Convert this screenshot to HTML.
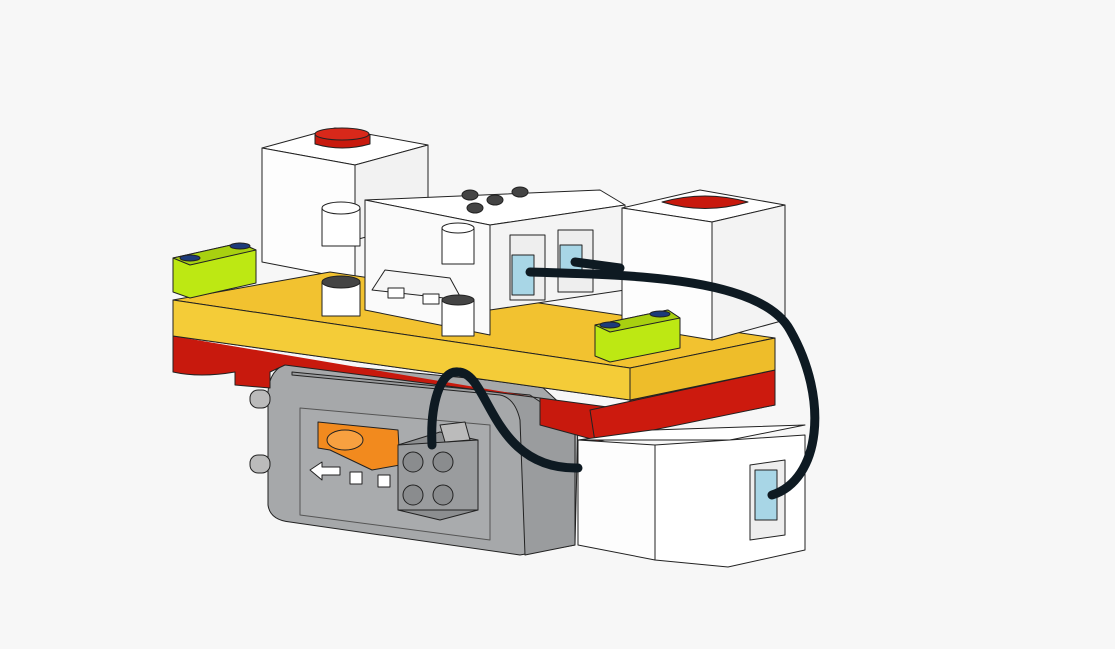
<!DOCTYPE html>
<html><head><meta charset="utf-8"><style>
html,body{margin:0;padding:0;background:#f7f7f7;}
svg{display:block}
</style></head><body>
<svg width="1115" height="649" viewBox="0 0 1115 649" xmlns="http://www.w3.org/2000/svg" stroke="#222" stroke-width="1" stroke-linejoin="round">
<rect x="0" y="0" width="1115" height="649" fill="#f7f7f7" stroke="none"/>

<!-- grey motor -->
<path d="M268,392 L268,505 Q270,520 290,522 L520,555 L575,545 L578,420 L540,385 L300,362 Q270,362 268,392 Z" fill="#a6a8aa"/>
<path d="M292,372 L530,395 L575,425 L575,545 L525,555 L520,420 Q515,398 500,395 L292,375 Z" fill="#9a9c9e"/>
<path d="M300,408 L490,425 L490,540 L300,515 Z" fill="#a9abad" stroke="#555"/>
<rect x="250" y="390" width="20" height="18" rx="8" fill="#bbb"/>
<rect x="250" y="455" width="20" height="18" rx="8" fill="#bbb"/>
<polygon points="310,470 322,462 322,467 340,467 340,475 322,475 322,480" fill="#fff"/>
<rect x="350" y="472" width="12" height="12" fill="#fff"/>
<rect x="378" y="475" width="12" height="12" fill="#fff"/>
<!-- orange -->
<path d="M318,422 L398,430 L400,465 L372,470 L330,450 L318,448 Z" fill="#f28a1e"/>
<ellipse cx="345" cy="440" rx="18" ry="10" fill="#f7a040"/>
<!-- 2x2 grey brick -->
<polygon points="398,445 440,432 478,440 478,510 440,520 398,510" fill="#8c8e90"/>
<polygon points="398,445 478,440 478,510 398,510" fill="#9a9c9e"/>
<circle cx="413" cy="462" r="10" fill="#8a8c8e"/><circle cx="443" cy="462" r="10" fill="#8a8c8e"/>
<circle cx="413" cy="495" r="10" fill="#8a8c8e"/><circle cx="443" cy="495" r="10" fill="#8a8c8e"/>
<polygon points="440,425 465,422 470,440 445,442" fill="#bbb"/>

<!-- red bottom plates -->
<path d="M173,336 L630,400 L630,410 L540,398 L540,425 L595,440 L775,405 L775,370 L630,400 L173,336 L173,372 Q200,378 235,372 L235,385 L270,388 L270,372 L285,365 L540,398" fill="#c8190d"/>
<polygon points="590,410 775,370 775,405 595,442" fill="#cc1a0e"/>

<!-- top-left white cube body -->
<polygon points="262,148 355,165 428,145 335,128" fill="#fff"/>
<polygon points="262,148 355,165 355,280 262,262" fill="#fdfdfd"/>
<polygon points="355,165 428,145 428,220 355,240" fill="#f2f2f2"/>
<path d="M315,135 Q342,128 370,135 L370,144 Q342,152 315,144 Z" fill="#c8190d"/>
<ellipse cx="342" cy="134" rx="27" ry="6" fill="#d8281a"/>

<!-- yellow plate -->
<polygon points="173,300 330,272 775,338 630,368" fill="#f2c230"/>
<polygon points="173,300 630,368 630,400 173,336" fill="#f4cc38"/>
<polygon points="630,368 775,338 775,370 630,400" fill="#eebd2a"/>

<!-- hub body -->
<polygon points="365,200 600,190 625,205 490,225" fill="#fff"/>
<polygon points="365,200 490,225 490,335 365,310" fill="#fafafa"/>
<polygon points="490,225 625,205 625,290 490,310" fill="#f4f4f4"/>
<path d="M372,290 L385,270 L450,278 L462,300 Z" fill="#f6f6f6"/>
<rect x="388" y="288" width="16" height="10" fill="#fff"/><rect x="423" y="294" width="16" height="10" fill="#fff"/>
<ellipse cx="470" cy="195" rx="8" ry="5" fill="#444"/><ellipse cx="495" cy="200" rx="8" ry="5" fill="#444"/><ellipse cx="520" cy="192" rx="8" ry="5" fill="#444"/><ellipse cx="475" cy="208" rx="8" ry="5" fill="#444"/>
<!-- pegs -->
<rect x="322" y="208" width="38" height="38" fill="#fff"/><ellipse cx="341" cy="208" rx="19" ry="6" fill="#fff"/>
<rect x="442" y="228" width="32" height="36" fill="#fff"/><ellipse cx="458" cy="228" rx="16" ry="5" fill="#fff"/>
<rect x="322" y="282" width="38" height="34" fill="#fff"/><ellipse cx="341" cy="282" rx="19" ry="6" fill="#444"/>
<rect x="442" y="300" width="32" height="36" fill="#fff"/><ellipse cx="458" cy="300" rx="16" ry="5" fill="#444"/>
<!-- ports -->
<rect x="510" y="235" width="35" height="65" fill="#eee"/><rect x="512" y="255" width="22" height="40" fill="#a8d6e6"/>
<rect x="558" y="230" width="35" height="62" fill="#eee"/><rect x="560" y="245" width="22" height="30" fill="#a8d6e6"/>

<!-- right white cube -->
<polygon points="622,208 712,222 785,205 700,190" fill="#fff"/>
<polygon points="622,208 712,222 712,340 622,325" fill="#fdfdfd"/>
<polygon points="712,222 785,205 785,320 712,340" fill="#f3f3f3"/>
<path d="M662,202 Q705,190 748,202 Q705,215 662,202 Z" fill="#c8190d"/>

<!-- lime beams -->
<polygon points="173,258 240,243 256,250 256,283 190,298 173,292" fill="#bde813"/>
<polygon points="173,258 240,243 256,250 190,265" fill="#a8d010"/>
<ellipse cx="190" cy="258" rx="10" ry="3" fill="#1d3b7a"/><ellipse cx="240" cy="246" rx="10" ry="3" fill="#1d3b7a"/>
<polygon points="595,325 668,310 680,318 680,348 610,362 595,356" fill="#bde813"/>
<polygon points="595,325 668,310 680,318 610,332" fill="#a8d010"/>
<ellipse cx="610" cy="325" rx="10" ry="3" fill="#1d3b7a"/><ellipse cx="660" cy="314" rx="10" ry="3" fill="#1d3b7a"/>

<!-- bottom-right white cube -->
<polygon points="578,440 652,430 805,425 730,440" fill="#fff"/>
<polygon points="578,440 655,445 655,560 578,545" fill="#fdfdfd"/>
<polygon points="655,445 805,435 805,550 728,567 655,560" fill="#fff"/>
<polygon points="750,465 785,460 785,535 750,540" fill="#eee"/>
<rect x="755" y="470" width="22" height="50" fill="#a8d6e6"/>

<!-- cables -->
<g fill="none" stroke="#0e1a22" stroke-width="9" stroke-linecap="round">
<path d="M530,272 C620,275 760,275 790,330 C830,400 820,480 772,495"/>
<path d="M575,262 L620,268"/>
<path d="M432,445 C430,405 440,370 458,372 C490,372 490,470 578,468"/>
</g>
</svg>
</body></html>
